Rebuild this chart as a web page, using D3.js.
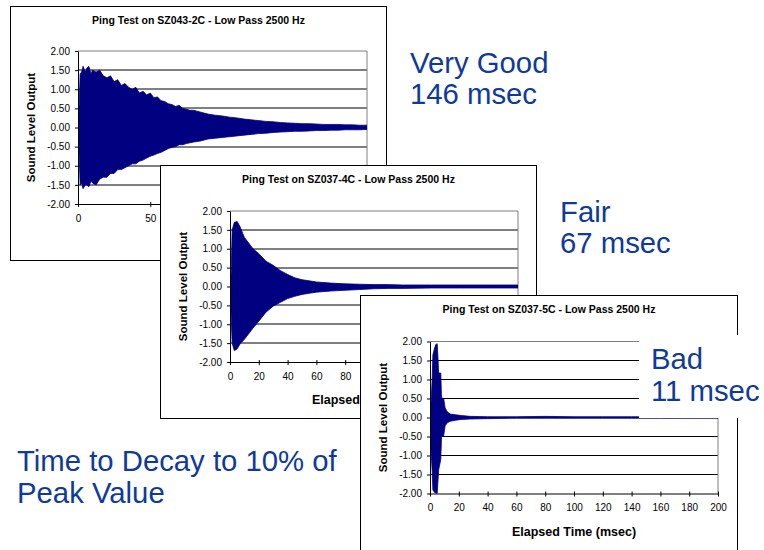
<!DOCTYPE html>
<html>
<head>
<meta charset="utf-8">
<script src="https://cdn.jsdelivr.net/npm/d3@7"></script>
<style>
  html, body { margin: 0; padding: 0; background: #ffffff; }
  svg { display: block; }
</style>
</head>
<body>
<svg id="chart" width="764" height="550"></svg>
<script>
// ---- Ping test recordings: envelope of the ringing signal (msec, output level) ----
const timeA  = [0, 0.8, 1.5, 2.5, 3.5, 5, 6, 7.5, 9, 10, 12.5, 15, 17.5, 20, 22.5, 25, 27.5, 30, 32.5, 35, 37.5, 40, 42.5, 45, 47.5, 50, 52.5, 55, 57.5, 60, 62.5, 65, 67.5, 70, 72.5, 75, 77.5, 80, 85, 90, 95, 100, 105, 110, 115, 120, 125, 130, 135, 140, 145, 150, 155, 160, 165, 170, 175, 180, 185, 190, 195, 200];
const upperA = [0, 0.6, 1.4, 1.45, 1.6, 1.45, 1.55, 1.6, 1.4, 1.5, 1.45, 1.5, 1.35, 1.3, 1.35, 1.2, 1.25, 1.1, 1.15, 1.05, 1.0, 1.05, 0.9, 0.95, 0.85, 0.9, 0.78, 0.8, 0.7, 0.68, 0.62, 0.6, 0.55, 0.58, 0.5, 0.48, 0.45, 0.45, 0.4, 0.35, 0.32, 0.3, 0.27, 0.25, 0.22, 0.2, 0.18, 0.16, 0.15, 0.13, 0.12, 0.11, 0.1, 0.1, 0.09, 0.08, 0.08, 0.08, 0.07, 0.07, 0.06, 0.06];
const lowerA = [0, -0.75, -1.5, -1.45, -1.6, -1.5, -1.5, -1.55, -1.4, -1.45, -1.5, -1.35, -1.3, -1.3, -1.2, -1.2, -1.1, -1.1, -1.05, -1.0, -0.95, -0.95, -0.88, -0.85, -0.8, -0.75, -0.72, -0.68, -0.65, -0.6, -0.55, -0.52, -0.5, -0.45, -0.45, -0.42, -0.4, -0.38, -0.35, -0.3, -0.28, -0.26, -0.24, -0.22, -0.2, -0.18, -0.16, -0.15, -0.13, -0.12, -0.11, -0.1, -0.1, -0.09, -0.08, -0.08, -0.07, -0.07, -0.06, -0.06, -0.06, -0.05];

const timeB  = [0, 0.8, 1.5, 3, 5, 7, 10, 13, 16, 20, 25, 30, 35, 40, 45, 50, 55, 60, 70, 80, 90, 100, 110, 120, 140, 160, 180, 200];
const upperB = [0, 0.35, 1.5, 1.7, 1.72, 1.58, 1.3, 1.15, 1.0, 0.87, 0.67, 0.56, 0.42, 0.32, 0.23, 0.18, 0.15, 0.12, 0.09, 0.07, 0.06, 0.05, 0.05, 0.04, 0.04, 0.04, 0.04, 0.04];
const lowerB = [0, -0.8, -1.5, -1.7, -1.65, -1.52, -1.4, -1.25, -1.1, -0.92, -0.68, -0.52, -0.42, -0.32, -0.26, -0.21, -0.18, -0.15, -0.12, -0.1, -0.08, -0.06, -0.05, -0.05, -0.04, -0.04, -0.04, -0.04];

const timeC  = [0, 0.8, 1.5, 2, 3, 4, 5, 5.5, 6, 7.5, 8, 9.5, 10.5, 12, 14, 18, 22, 28, 40, 60, 80, 100, 120, 140, 160, 180, 200];
const upperC = [0, 0.45, 1.0, 1.65, 1.8, 1.92, 1.94, 1.6, 1.17, 1.17, 0.52, 0.5, 0.25, 0.15, 0.09, 0.07, 0.05, 0.03, 0.02, 0.02, 0.03, 0.02, 0.02, 0.02, 0.02, 0.02, 0.02];
const lowerC = [0, -0.95, -1.4, -1.91, -1.96, -2.0, -2.0, -1.7, -1.38, -1.1, -0.5, -0.48, -0.22, -0.14, -0.1, -0.07, -0.05, -0.04, -0.03, -0.02, -0.02, -0.02, -0.02, -0.02, -0.02, -0.02, -0.02];

const yTicks  = [-2, -1.5, -1, -0.5, 0, 0.5, 1, 1.5, 2];
// time ticks left uncovered by the overlapping panels
const xTicksA = [0, 50];
const xTicksB = [0, 20, 40, 60, 80];
const xTicksC = [0, 20, 40, 60, 80, 100, 120, 140, 160, 180, 200];

const titles = ["Ping Test on SZ043-2C - Low Pass 2500 Hz",
                "Ping Test on SZ037-4C - Low Pass 2500 Hz",
                "Ping Test on SZ037-5C - Low Pass 2500 Hz"];
const yTitle = "Sound Level Output";
const xTitle = "Elapsed Time (msec)";

const verdicts = [["Very Good", "146 msec"], ["Fair", "67 msec"], ["Bad", "11 msec"]];
const caption  = ["Time to Decay to 10% of", "Peak Value"];

// ---- drawing ----
const FONT = "'Liberation Sans', Arial, Helvetica, sans-serif";
const WAVE = "#000080";
const BLUE = "#0f3a9c";
const svg = d3.select("#chart");

const panels = [
  { x: 10.5,  y: 6.5,   w: 376, h: 254, pl: 67.5, pt: 44.5, pw: 289, ph: 153, time: timeA, up: upperA, lo: lowerA, xt: xTicksA, title: titles[0], xTitle: false },
  { x: 160.5, y: 165.5, w: 376, h: 253, pl: 69.5, pt: 45.5, pw: 288, ph: 151, time: timeB, up: upperB, lo: lowerB, xt: xTicksB, title: titles[1], xTitle: true },
  { x: 360.5, y: 295.5, w: 377, h: 262, pl: 69.5, pt: 46,   pw: 288, ph: 152, time: timeC, up: upperC, lo: lowerC, xt: xTicksC, title: titles[2], xTitle: true }
];

panels.forEach((p, i) => {
  const g = svg.append("g").attr("transform", `translate(${p.x},${p.y})`);
  g.append("rect").attr("width", p.w).attr("height", p.h)
    .attr("fill", "#fff").attr("stroke", "#000").attr("stroke-width", 1);

  g.append("text").attr("x", p.w / 2).attr("y", 17)
    .attr("text-anchor", "middle").attr("font-family", FONT)
    .attr("font-size", 10.5).attr("font-weight", "bold").text(p.title);

  const pg = g.append("g").attr("transform", `translate(${p.pl},${p.pt})`);
  const x = d3.scaleLinear().domain([0, 200]).range([0, p.pw]);
  const y = d3.scaleLinear().domain([-2, 2]).range([p.ph, 0]);

  // grid lines
  pg.selectAll("line.grid").data(yTicks.filter(v => v > -2 && v < 2)).join("line")
    .attr("class", "grid")
    .attr("x1", 0).attr("x2", p.pw)
    .attr("y1", d => Math.round(y(d))).attr("y2", d => Math.round(y(d)))
    .attr("stroke", "#000").attr("stroke-width", 1);

  // plot-area frame (grey top/right)
  pg.append("path").attr("d", `M0,0H${p.pw}V${p.ph}`)
    .attr("fill", "none").attr("stroke", "#808080").attr("stroke-width", 1);

  // waveform envelope
  const clipId = `clip${i}`;
  pg.append("clipPath").attr("id", clipId).append("rect")
    .attr("x", 0).attr("y", 0).attr("width", p.pw).attr("height", p.ph);
  const rows = p.time.map((t, k) => ({ t, u: p.up[k], l: p.lo[k] }));
  const area = d3.area().x(d => x(d.t)).y0(d => y(d.l)).y1(d => y(d.u));
  pg.append("path").datum(rows).attr("d", area)
    .attr("clip-path", `url(#${clipId})`)
    .attr("fill", WAVE).attr("stroke", WAVE).attr("stroke-width", 0.8)
    .attr("stroke-linejoin", "round");

  // y axis
  const ya = pg.append("g").call(
    d3.axisLeft(y).tickValues(yTicks).tickFormat(v => v.toFixed(2))
      .tickSizeInner(3).tickSizeOuter(0).tickPadding(5));
  ya.selectAll("text").attr("font-family", FONT).attr("font-size", 10).attr("fill", "#000");
  ya.select(".domain").attr("stroke", "#000");

  // x axis
  const xa = pg.append("g").attr("transform", `translate(0,${p.ph})`).call(
    d3.axisBottom(x).tickValues(p.xt).tickSizeInner(3).tickSizeOuter(0).tickPadding(7.5));
  xa.selectAll(".tick line").attr("y1", -2).attr("y2", 3);
  xa.selectAll("text").attr("font-family", FONT).attr("font-size", 10).attr("fill", "#000");
  xa.select(".domain").attr("stroke", "#000");

  // axis titles
  pg.append("text")
    .attr("transform", `translate(${-43},${p.ph / 2}) rotate(-90)`)
    .attr("text-anchor", "middle").attr("font-family", FONT)
    .attr("font-size", 11.5).attr("font-weight", "bold").text(yTitle);
  if (p.xTitle) {
    pg.append("text").attr("x", p.pw / 2).attr("y", p.ph + 42)
      .attr("text-anchor", "middle").attr("font-family", FONT)
      .attr("font-size", 12.5).attr("font-weight", "bold").text(xTitle);
  }
});

// label box over the last panel
svg.append("rect").attr("x", 639).attr("y", 335).attr("width", 125).attr("height", 83).attr("fill", "#fff");

const labelPos = [[410, 72.7], [560, 221.7], [651, 369]];
verdicts.forEach((v, i) => {
  const t = svg.append("text").attr("font-family", FONT).attr("font-size", 29.3).attr("fill", BLUE);
  t.append("tspan").attr("x", labelPos[i][0]).attr("y", labelPos[i][1]).text(v[0]);
  t.append("tspan").attr("x", labelPos[i][0]).attr("y", labelPos[i][1] + 31.5).text(v[1]);
});

const cap = svg.append("text").attr("font-family", FONT).attr("font-size", 29.3).attr("fill", BLUE);
cap.append("tspan").attr("x", 17).attr("y", 470.7).text(caption[0]);
cap.append("tspan").attr("x", 17).attr("y", 503).text(caption[1]);
</script>
</body>
</html>
